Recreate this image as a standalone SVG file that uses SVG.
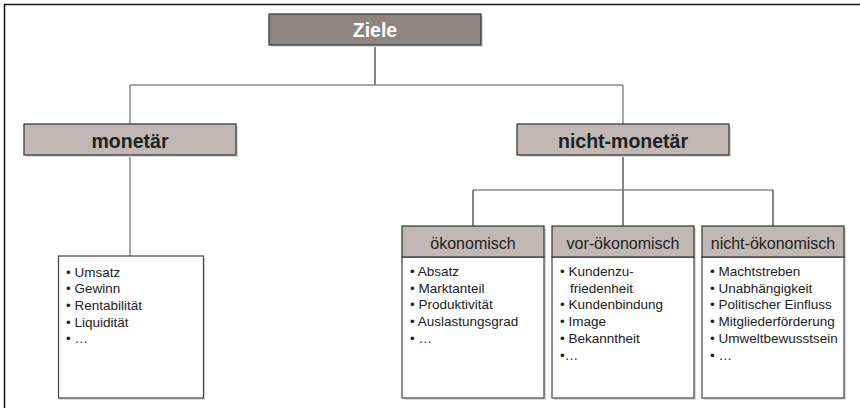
<svg xmlns="http://www.w3.org/2000/svg" width="860" height="408" viewBox="0 0 860 408">
<style>
  text { font-family: "Liberation Sans", Arial, Helvetica, sans-serif; }
  .shadow { fill: #d9d9d9; stroke: none; }
  .dark { fill: #8e8480; stroke: #333; stroke-width: 1.2; }
  .light { fill: #c1b7b4; stroke: #333; stroke-width: 1.2; }
  .body { fill: #fff; stroke: #444; stroke-width: 1.2; }
  .t1 { font-size: 19.5px; font-weight: bold; text-anchor: middle; }
  .t2 { font-size: 16px; fill: #222; text-anchor: middle; }
  .li { font-size: 13.5px; fill: #222; }
  .conn { fill: none; stroke: #8a8a8a; stroke-width: 1.5; }
  .conn2 { fill: none; stroke: #444; stroke-width: 1.3; }
</style>
<rect x="0" y="0" width="860" height="408" fill="#fff"/>
<path d="M4.5,408 V4.5 H860" fill="none" stroke="#111" stroke-width="1.5"/>
<g id="connectors">
  <path class="conn2" d="M375,45 V85"/>
  <path class="conn" d="M130,85 H623"/>
  <path class="conn" d="M130,85 V124"/>
  <path class="conn" d="M623,85 V124"/>
  <path class="conn" d="M130,155 V256"/>
  <path class="conn2" d="M623,155 V190"/>
  <path class="conn" d="M473,190 H773"/>
  <path class="conn2" d="M473,190 V226"/>
  <path class="conn2" d="M623,190 V226"/>
  <path class="conn2" d="M773,190 V226"/>
</g>
<g id="ziele">
  <rect class="shadow" x="271" y="16" width="212" height="31"/>
  <rect class="dark" x="269" y="14" width="212" height="31"/>
  <text class="t1" x="375" y="37" fill="#fff">Ziele</text>
</g>
<g id="monetaer">
  <rect class="shadow" x="26" y="126" width="212" height="31"/>
  <rect class="light" x="24" y="124" width="212" height="31"/>
  <text class="t1" x="130" y="147.5" fill="#222">monetär</text>
</g>
<g id="nicht-monetaer">
  <rect class="shadow" x="519" y="126" width="212" height="31"/>
  <rect class="light" x="517" y="124" width="212" height="31"/>
  <text class="t1" x="623" y="147.5" fill="#222">nicht-monetär</text>
</g>
<g id="monetaer-liste">
  <rect class="shadow" x="60" y="258" width="145" height="142"/>
  <rect class="body" x="58.5" y="256" width="145" height="142"/>
  <text class="li" x="66" y="276.5">• Umsatz</text>
  <text class="li" x="66" y="293.2">• Gewinn</text>
  <text class="li" x="66" y="309.9">• Rentabilität</text>
  <text class="li" x="66" y="326.6">• Liquidität</text>
  <text class="li" x="66" y="343.3">• …</text>
</g>
<g id="oekonomisch">
  <rect class="shadow" x="404" y="228" width="142" height="172"/>
  <rect class="body" x="402" y="257" width="142" height="141"/>
  <rect class="light" x="402" y="226" width="142" height="31"/>
  <text class="t2" x="473" y="248.5">ökonomisch</text>
  <text class="li" x="410" y="276">• Absatz</text>
  <text class="li" x="410" y="292.7">• Marktanteil</text>
  <text class="li" x="410" y="309.4">• Produktivität</text>
  <text class="li" x="410" y="326.1">• Auslastungsgrad</text>
  <text class="li" x="410" y="342.8">• …</text>
</g>
<g id="vor-oekonomisch">
  <rect class="shadow" x="554" y="228" width="142" height="172"/>
  <rect class="body" x="552" y="257" width="142" height="141"/>
  <rect class="light" x="552" y="226" width="142" height="31"/>
  <text class="t2" x="623" y="248.5">vor-ökonomisch</text>
  <text class="li" x="560" y="276">• Kundenzu-</text>
  <text class="li" x="570" y="292.7">friedenheit</text>
  <text class="li" x="560" y="309.4">• Kundenbindung</text>
  <text class="li" x="560" y="326.1">• Image</text>
  <text class="li" x="560" y="342.8">• Bekanntheit</text>
  <text class="li" x="560" y="359.5">•…</text>
</g>
<g id="nicht-oekonomisch">
  <rect class="shadow" x="704" y="228" width="142" height="172"/>
  <rect class="body" x="702" y="257" width="142" height="141"/>
  <rect class="light" x="702" y="226" width="142" height="31"/>
  <text class="t2" x="773" y="248.5">nicht-ökonomisch</text>
  <text class="li" x="710" y="276">• Machtstreben</text>
  <text class="li" x="710" y="292.7">• Unabhängigkeit</text>
  <text class="li" x="710" y="309.4">• Politischer Einfluss</text>
  <text class="li" x="710" y="326.1">• Mitgliederförderung</text>
  <text class="li" x="710" y="342.8">• Umweltbewusstsein</text>
  <text class="li" x="710" y="359.5">• …</text>
</g>
</svg>
